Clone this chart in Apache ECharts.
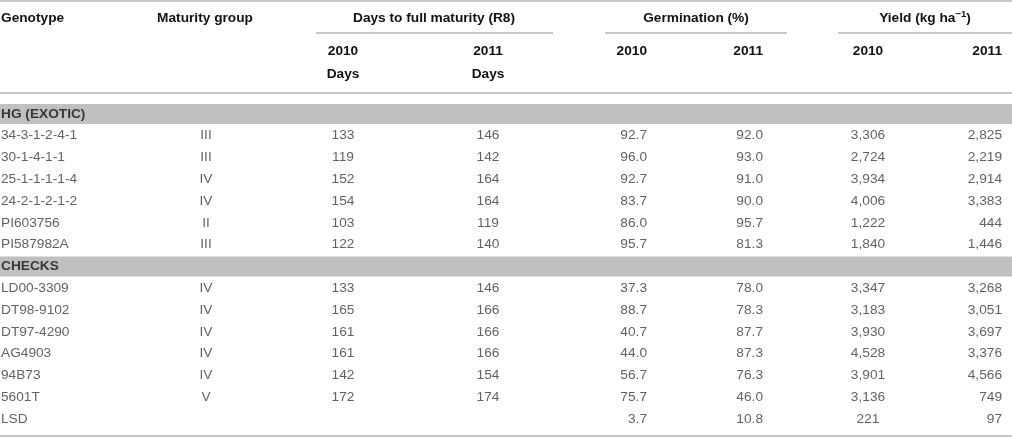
<!DOCTYPE html>
<html>
<head>
<meta charset="utf-8">
<script src="https://cdn.jsdelivr.net/npm/echarts@6/dist/echarts.min.js"></script>
<style>
  html, body { margin: 0; padding: 0; background: #fff; }
  #chart { width: 1012px; height: 438px; }
</style>
</head>
<body>
<div id="chart"></div>
<script>
(function () {
    'use strict';

    // ---- data ----
    const hgGenotypes = ['34-3-1-2-4-1', '30-1-4-1-1', '25-1-1-1-1-4', '24-2-1-2-1-2', 'PI603756', 'PI587982A'];
    const checkGenotypes = ['LD00-3309', 'DT98-9102', 'DT97-4290', 'AG4903', '94B73', '5601T'];
    const groupLabels = ['HG (EXOTIC)', 'CHECKS'];
    const maturityGroup = ['III', 'III', 'IV', 'IV', 'II', 'III', 'IV', 'IV', 'IV', 'IV', 'IV', 'V'];
    const days2010 = [133, 119, 152, 154, 103, 122, 133, 165, 161, 161, 142, 172];
    const days2011 = [146, 142, 164, 164, 119, 140, 146, 166, 166, 166, 154, 174];
    const germ2010 = [92.7, 96.0, 92.7, 83.7, 86.0, 95.7, 37.3, 88.7, 40.7, 44.0, 56.7, 75.7];
    const germ2011 = [92.0, 93.0, 91.0, 90.0, 95.7, 81.3, 78.0, 78.3, 87.7, 87.3, 76.3, 46.0];
    const yield2010 = [3306, 2724, 3934, 4006, 1222, 1840, 3347, 3183, 3930, 4528, 3901, 3136];
    const yield2011 = [2825, 2219, 2914, 3383, 444, 1446, 3268, 3051, 3697, 3376, 4566, 749];
    const lsdLabel = 'LSD';
    const lsdGerm = [3.7, 10.8];
    const lsdYield = [221, 97];
    const yearLabels = ['2010', '2011'];

    // ---- layout ----
    const W = 1012;
    const FONT = 'Liberation Sans, Arial, sans-serif';
    const FS = 13.7;
    const TEXT_COLOR = '#3a3a3a';
    const HEAD_COLOR = '#111';
    const RULE_COLOR = '#b4b4b4';
    const BAND_COLOR = '#bfc0c2';

    // row list for the body (group label rows + genotypes + LSD)
    const rows = [groupLabels[0], ...hgGenotypes, groupLabels[1], ...checkGenotypes, lsdLabel];
    const genotypes = [...hgGenotypes, ...checkGenotypes];

    const fmt1 = v => v.toFixed(1);
    const fmtK = v => v.toLocaleString('en-US');

    // columns: anchor x, alignment, cell text per genotype, LSD text
    const columns = [
        { x: 1, align: 'left', cells: genotypes, lsd: lsdLabel },
        { x: 206, align: 'center', cells: maturityGroup, lsd: '' },
        { x: 343, align: 'center', cells: days2010.map(String), lsd: '' },
        { x: 488, align: 'center', cells: days2011.map(String), lsd: '' },
        { x: 647, align: 'right', cells: germ2010.map(fmt1), lsd: fmt1(lsdGerm[0]) },
        { x: 763, align: 'right', cells: germ2011.map(fmt1), lsd: fmt1(lsdGerm[1]) },
        { x: 868, align: 'center', cells: yield2010.map(fmtK), lsd: fmtK(lsdYield[0]) },
        { x: 1002, align: 'right', cells: yield2011.map(fmtK), lsd: fmtK(lsdYield[1]) }
    ];

    const series = [];

    // grey bands behind the group label rows
    series.push({
        type: 'bar',
        silent: true,
        barWidth: 20,
        itemStyle: { color: BAND_COLOR },
        data: rows.map(r => (groupLabels.includes(r) ? W : '-'))
    });

    // group label text (bold)
    series.push({
        type: 'scatter',
        silent: true,
        symbolSize: 1,
        itemStyle: { color: 'rgba(0,0,0,0)' },
        label: {
            show: true, position: 'inside', align: 'left',
            formatter: p => p.value[2],
            fontFamily: FONT, fontSize: FS, fontWeight: 'bold', color: HEAD_COLOR
        },
        data: groupLabels.map(g => [columns[0].x, g, g])
    });

    // body cells, one series per column
    columns.forEach(col => {
        const data = genotypes.map((g, i) => [col.x, g, col.cells[i]]);
        if (col.lsd) data.push([col.x, lsdLabel, col.lsd]);
        series.push({
            type: 'scatter',
            silent: true,
            symbolSize: 1,
            itemStyle: { color: 'rgba(0,0,0,0)' },
            label: {
                show: true, position: 'inside', align: col.align,
                formatter: p => p.value[2],
                fontFamily: FONT, fontSize: FS, color: TEXT_COLOR
            },
            data: data
        });
    });

    // ---- header (text + rules) ----
    const headFont = `bold ${FS}px ${FONT}`;
    function headText (text, x, y, align) {
        return { type: 'text', x: x, y: y, silent: true,
            style: { text: text, align: align, verticalAlign: 'middle', font: headFont, fill: HEAD_COLOR } };
    }
    function rule (x1, x2, y, w) {
        return { type: 'line', silent: true,
            shape: { x1: x1, y1: y, x2: x2, y2: y },
            style: { stroke: RULE_COLOR, lineWidth: w || 1.5 } };
    }

    const y1 = 18, y2 = 51, y3 = 74;
    const graphic = [
        rule(0, W, 1),
        rule(0, W, 93),
        rule(0, W, 436),
        rule(316, 553, 33),
        rule(605, 787, 33),
        rule(838, W, 33),
        headText('Genotype', 1, y1, 'left'),
        headText('Maturity group', 205, y1, 'center'),
        headText('Days to full maturity (R8)', 434, y1, 'center'),
        headText('Germination (%)', 696, y1, 'center'),
        {
            type: 'text', x: 925, y: y1, silent: true,
            style: {
                text: '{a|Yield (kg ha}{s|\u22121}{a|)}',
                align: 'center', verticalAlign: 'middle',
                rich: {
                    a: { fontFamily: FONT, fontSize: FS, fontWeight: 'bold', fill: HEAD_COLOR, color: HEAD_COLOR, lineHeight: 18 },
                    s: { fontFamily: FONT, fontSize: 9.5, fontWeight: 'bold', fill: HEAD_COLOR, color: HEAD_COLOR, verticalAlign: 'top', lineHeight: 12 }
                }
            }
        },
        headText(yearLabels[0], 343, y2, 'center'),
        headText(yearLabels[1], 488, y2, 'center'),
        headText('Days', 343, y3, 'center'),
        headText('Days', 488, y3, 'center'),
        headText(yearLabels[0], 647, y2, 'right'),
        headText(yearLabels[1], 763, y2, 'right'),
        headText(yearLabels[0], 868, y2, 'center'),
        headText(yearLabels[1], 1002, y2, 'right')
    ];

    const chart = echarts.init(document.getElementById('chart'), null, { renderer: 'canvas' });
    chart.setOption({
        animation: false,
        backgroundColor: '#fff',
        grid: { left: 0, right: 0, top: 103, height: 327, containLabel: false },
        xAxis: { type: 'value', min: 0, max: W, show: false },
        yAxis: { type: 'category', inverse: true, data: rows, show: false },
        series: series,
        graphic: graphic
    });
}());
</script>
</body>
</html>
